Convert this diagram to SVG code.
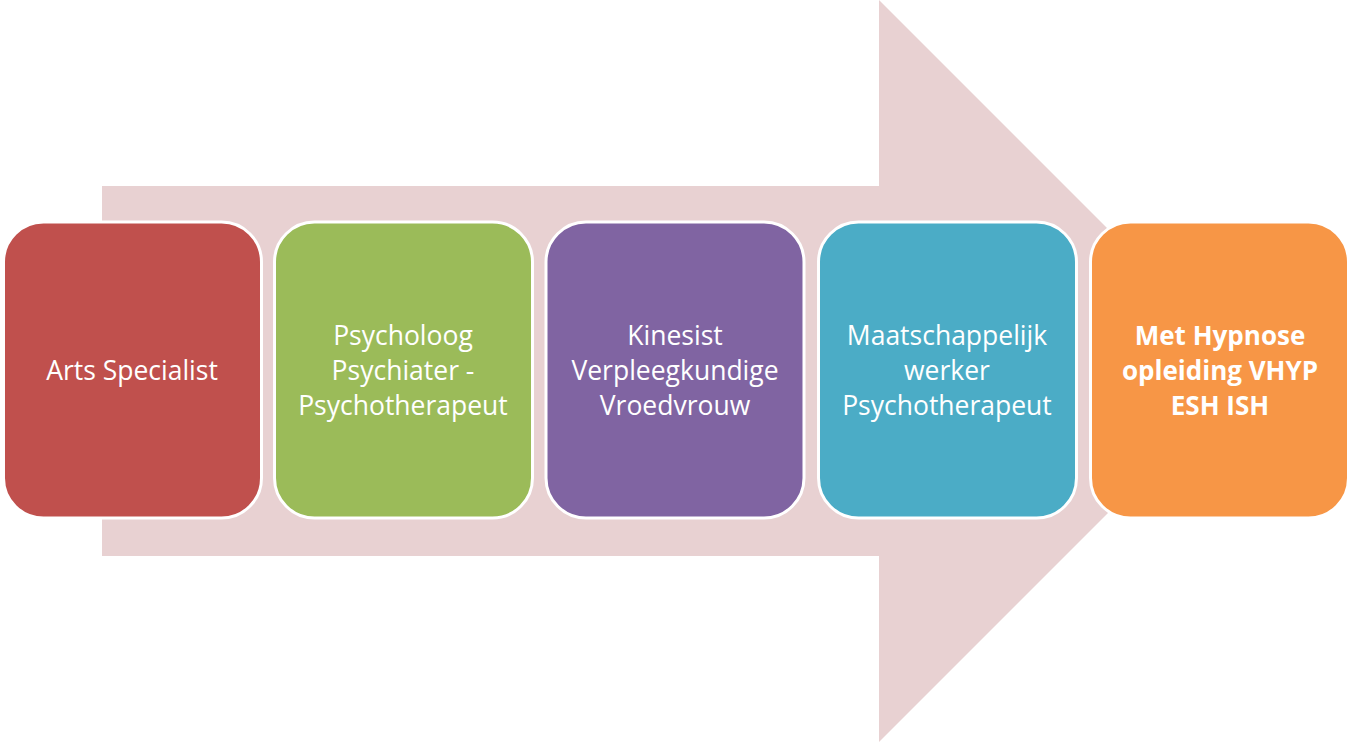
<svg xmlns="http://www.w3.org/2000/svg" width="1352" height="742" viewBox="0 0 1352 742">
<style>
.box{stroke:#FFFFFF;stroke-width:3}
.t{font-family:"Open Sans","Liberation Sans",sans-serif;font-size:26.5px;fill:#FFFFFF;text-anchor:middle}
.b{font-weight:bold;font-size:26px}
</style>
<rect width="1352" height="742" fill="#FFFFFF"/>
<g id="connectors">
<path d="M102,186 L879,186 L879,0 L1250,371 L879,742 L879,556 L102,556 Z" fill="#E8D1D2"/>
</g>
<g id="node1">
<rect class="box" x="3.5" y="222" width="258" height="296" rx="40" fill="#C0504D"/>
<text class="t" x="132" y="380">Arts Specialist</text>
</g>
<g id="node2">
<rect class="box" x="274.5" y="222" width="258" height="296" rx="40" fill="#9BBB59"/>
<text class="t" x="403" y="345">Psycholoog</text>
<text class="t" x="403" y="380">Psychiater -</text>
<text class="t" x="403" y="415">Psychotherapeut</text>
</g>
<g id="node3">
<rect class="box" x="546" y="222" width="258" height="296" rx="40" fill="#8064A2"/>
<text class="t" x="675" y="345">Kinesist</text>
<text class="t" x="675" y="380">Verpleegkundige</text>
<text class="t" x="675" y="415">Vroedvrouw</text>
</g>
<g id="node4">
<rect class="box" x="818.5" y="222" width="258" height="296" rx="40" fill="#4BACC6"/>
<text class="t" x="947" y="345">Maatschappelijk</text>
<text class="t" x="947" y="380">werker</text>
<text class="t" x="947" y="415">Psychotherapeut</text>
</g>
<g id="node5">
<rect class="box" x="1090.5" y="222" width="258" height="296" rx="40" fill="#F79646"/>
<text class="t b" x="1220" y="345">Met Hypnose</text>
<text class="t b" x="1220" y="380">opleiding VHYP</text>
<text class="t b" x="1220" y="415">ESH ISH</text>
</g>
</svg>
